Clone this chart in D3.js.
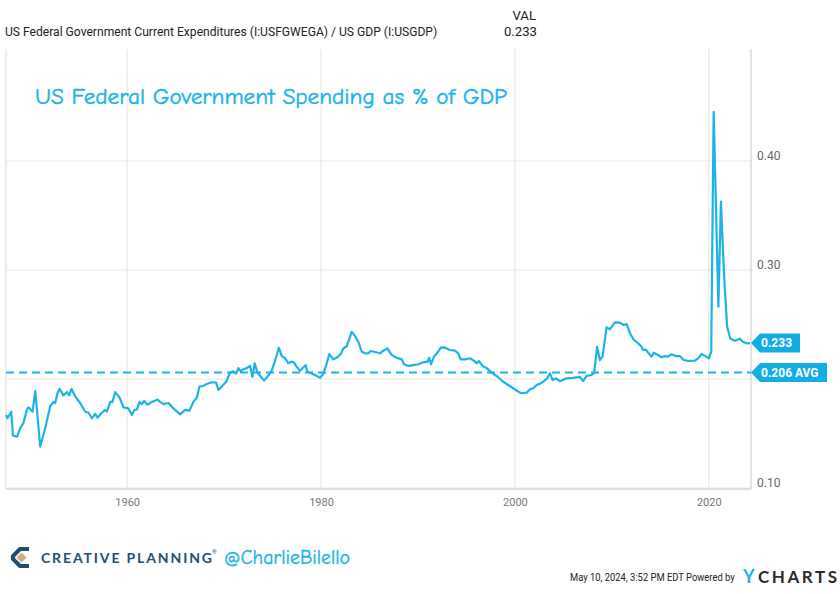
<!DOCTYPE html>
<html><head><meta charset="utf-8">
<script src="https://cdn.jsdelivr.net/npm/d3@7"></script>
<style>
body{margin:0;background:#fff;}
svg{display:block;font-family:Roboto,"Liberation Sans",sans-serif;}
</style></head><body>
<svg id="chart" width="840" height="594"></svg>
<script>
// ---- data ----
const years = [1947.5,1947.66,1948.04,1948.22,1948.63,1948.97,1949.31,1949.66,1949.82,1950.24,1950.52,1951.03,1951.55,1952.06,1952.4,1952.58,1952.81,1953.02,1953.43,1953.78,1954.02,1954.26,1954.64,1955.15,1955.67,1956.01,1956.36,1956.7,1956.94,1957.39,1957.73,1957.91,1958.25,1958.48,1958.76,1959.21,1959.62,1960.13,1960.48,1960.75,1961.0,1961.27,1961.52,1961.75,1962.09,1962.55,1963.12,1963.4,1963.74,1964.26,1964.77,1965.46,1965.98,1966.42,1966.84,1967.19,1967.45,1967.8,1968.22,1968.73,1969.18,1969.41,1969.76,1970.21,1970.62,1970.96,1971.24,1971.47,1971.72,1971.99,1972.34,1972.68,1972.92,1973.16,1973.43,1973.71,1974.12,1974.46,1974.92,1975.19,1975.43,1975.64,1975.95,1976.29,1976.63,1976.91,1977.22,1977.49,1977.84,1978.18,1978.42,1978.59,1979.04,1979.56,1979.9,1980.24,1980.59,1980.86,1981.27,1981.68,1982.03,1982.3,1982.65,1982.99,1983.16,1983.51,1983.85,1984.2,1984.54,1984.88,1985.12,1985.57,1986.08,1986.42,1986.84,1987.29,1987.8,1988.32,1988.56,1989.0,1989.52,1990.03,1990.55,1991.0,1991.16,1991.34,1991.65,1991.99,1992.37,1992.78,1993.3,1993.81,1994.15,1994.4,1994.85,1995.36,1995.77,1996.05,1996.29,1996.67,1997.08,1997.6,1997.94,1998.28,1998.79,1999.31,1999.82,2000.34,2000.69,2001.21,2001.55,2001.89,2002.24,2002.65,2002.99,2003.33,2003.61,2003.89,2004.23,2004.64,2005.33,2006.01,2006.7,2007.04,2007.39,2007.91,2008.18,2008.48,2008.76,2009.04,2009.45,2009.79,2010.03,2010.31,2010.82,2011.24,2011.52,2011.86,2012.27,2012.71,2013.06,2013.23,2013.51,2013.85,2014.09,2014.33,2014.77,2015.12,2015.46,2015.8,2016.15,2016.6,2017.01,2017.42,2017.87,2018.56,2018.9,2019.25,2019.66,2020.0,2020.25,2020.5,2020.99,2021.25,2021.58,2021.89,2022.23,2022.68,2023.2,2023.54,2023.88,2024.25];
const values = [0.167,0.164,0.170,0.148,0.147,0.155,0.160,0.172,0.174,0.170,0.189,0.138,0.155,0.175,0.179,0.178,0.187,0.191,0.185,0.188,0.185,0.191,0.184,0.178,0.170,0.169,0.164,0.168,0.1645,0.169,0.1716,0.170,0.179,0.179,0.188,0.183,0.174,0.173,0.167,0.1716,0.172,0.179,0.177,0.180,0.1764,0.179,0.181,0.179,0.177,0.178,0.173,0.1676,0.1716,0.171,0.179,0.183,0.193,0.1936,0.1954,0.197,0.1966,0.190,0.193,0.1975,0.206,0.207,0.205,0.210,0.207,0.209,0.210,0.212,0.202,0.2144,0.206,0.203,0.1985,0.202,0.208,0.215,0.222,0.2287,0.221,0.219,0.2144,0.216,0.215,0.211,0.2076,0.2107,0.2128,0.2067,0.205,0.2028,0.201,0.205,0.2144,0.223,0.218,0.220,0.223,0.228,0.230,0.2388,0.2434,0.2394,0.234,0.225,0.2236,0.2236,0.2257,0.2248,0.2236,0.226,0.228,0.222,0.2195,0.218,0.2135,0.212,0.2128,0.2135,0.2153,0.216,0.2195,0.2135,0.2205,0.224,0.229,0.2287,0.2266,0.226,0.2236,0.218,0.218,0.219,0.2168,0.2144,0.2165,0.212,0.210,0.2058,0.2037,0.2016,0.1975,0.1945,0.1915,0.1884,0.1869,0.1875,0.1905,0.1915,0.1945,0.196,0.198,0.2006,0.2052,0.199,0.2006,0.198,0.2006,0.201,0.202,0.198,0.2028,0.2037,0.2058,0.2296,0.2174,0.2205,0.2474,0.2456,0.2486,0.252,0.2517,0.2495,0.2505,0.242,0.2358,0.2328,0.2296,0.2266,0.227,0.223,0.2205,0.224,0.222,0.220,0.221,0.2205,0.2227,0.221,0.221,0.2174,0.2165,0.2168,0.219,0.223,0.221,0.219,0.225,0.445,0.2664,0.3627,0.294,0.248,0.237,0.235,0.237,0.234,0.2327,0.233];
const xTicks = [1960, 1980, 2000, 2020];
const yGridTicks = [0.10, 0.20, 0.30, 0.40];
const yLabelTicks = [0.10, 0.30, 0.40];
const lastValue = 0.233;
const avgValue = 0.206;
const seriesName = "US Federal Government Current Expenditures (I:USFGWEGA) / US GDP (I:USGDP)";
const chartTitle = "US Federal Government Spending as % of GDP";

// ---- drawing ----
const svg = d3.select("#chart");
const blue = "#1cb3e8";
const x = d3.scaleLinear().domain([1947.5, 2024.25]).range([6, 750]);
const y = d3.scaleLinear().domain([0.10, 0.50]).range([488, 52]);
const plotTop = 49, plotBottom = 489, plotLeft = 6, plotRight = 751;

// squeeze a text horizontally (real transform) so its drawn width equals w
function fitText(sel, x0, y0, w) {
  const nat = sel.node().getComputedTextLength();
  sel.attr("x", 0).attr("y", 0)
     .attr("transform", `translate(${x0},${y0}) scale(${Math.min(1, w / nat)},1)`);
  return sel;
}

// header
fitText(svg.append("text").attr("font-size", 13.2).attr("fill", "#222").text(seriesName), 5, 36, 432);
svg.append("text").attr("x", 536).attr("y", 20).attr("font-size", 13.2).attr("fill", "#222")
  .attr("text-anchor", "end").text("VAL");
svg.append("text").attr("x", 537).attr("y", 36).attr("font-size", 13.2).attr("fill", "#222")
  .attr("text-anchor", "end").text(d3.format(".3f")(lastValue));

// grid
const g = svg.append("g");
g.selectAll("line.vg").data(xTicks).join("line")
  .attr("x1", d => x(d)).attr("x2", d => x(d)).attr("y1", plotTop).attr("y2", plotBottom)
  .attr("stroke", "#e4e4e4").attr("stroke-width", 1);
g.selectAll("line.hg").data(yGridTicks).join("line")
  .attr("x1", plotLeft).attr("x2", plotRight).attr("y1", d => y(d)).attr("y2", d => y(d))
  .attr("stroke", "#e8e8e8").attr("stroke-width", 1);
// frame
g.append("line").attr("x1", plotLeft).attr("x2", plotLeft).attr("y1", plotTop).attr("y2", plotBottom).attr("stroke", "#dcdcdc");
g.append("line").attr("x1", plotRight).attr("x2", plotRight).attr("y1", plotTop).attr("y2", plotBottom).attr("stroke", "#c8c8c8");
g.append("line").attr("x1", plotLeft).attr("x2", plotRight).attr("y1", plotBottom).attr("y2", plotBottom).attr("stroke", "#d6d6d6").attr("stroke-width", 1.5);

// axes
const xAxis = svg.append("g").attr("transform", `translate(0,${plotBottom})`)
  .call(d3.axisBottom(x).tickValues(xTicks).tickFormat(d3.format("d")).tickSize(0).tickPadding(9));
xAxis.select(".domain").remove();
xAxis.selectAll("text").attr("font-size", 11).attr("fill", "#777").attr("font-family", "Roboto");

const yAxis = svg.append("g").attr("transform", `translate(${plotRight},0)`)
  .call(d3.axisRight(y).tickValues(yLabelTicks).tickFormat(d3.format(".2f")).tickSize(0).tickPadding(6));
yAxis.select(".domain").remove();
yAxis.selectAll("text").attr("font-size", 12).attr("fill", "#666").attr("y", -5).attr("font-family", "Roboto");

// title inside plot
svg.append("text").attr("x", 35).attr("y", 104).attr("font-size", 23).attr("fill", blue)
  .attr("font-family", "'Comic Sans MS','Comic Neue',Lato,sans-serif")
  .attr("stroke", blue).attr("stroke-width", 0.5)
  .attr("textLength", 472).attr("lengthAdjust", "spacingAndGlyphs").text(chartTitle);

// average line
svg.append("line").attr("x1", plotLeft).attr("x2", plotRight).attr("y1", y(avgValue)).attr("y2", y(avgValue))
  .attr("stroke", blue).attr("stroke-width", 2).attr("stroke-dasharray", "8,5");

// series line
const data = years.map((yr, i) => [yr, values[i]]);
svg.append("path").datum(data)
  .attr("d", d3.line().x(d => x(d[0])).y(d => y(d[1])))
  .attr("fill", "none").attr("stroke", blue).attr("stroke-width", 2.2).attr("stroke-linejoin", "round");

// value tags
function tag(v, label, w) {
  const yc = y(v);
  const tg = svg.append("g");
  tg.append("path").attr("d", `M${plotRight},${yc} L${plotRight + 9},${yc - 9.5} L${plotRight + w},${yc - 9.5} L${plotRight + w},${yc + 9.5} L${plotRight + 9},${yc + 9.5} Z`)
    .attr("fill", "#14ade3");
  tg.append("text").attr("x", plotRight + 10).attr("y", yc + 4.3).attr("font-size", 12).attr("font-weight", "bold")
    .attr("fill", "#fff").attr("font-family", "Roboto").text(label);
}
tag(lastValue, d3.format(".3f")(lastValue), 49);
tag(avgValue, d3.format(".3f")(avgValue) + " AVG", 76);

// footer: Creative Planning logo
const logo = svg.append("g");
logo.append("path").attr("d", "M29,549 L20,549 L13,556 L13,559 L20,566 L29,566")
  .attr("fill", "none").attr("stroke", "#1f4f6c").attr("stroke-width", 4.2).attr("stroke-linejoin", "miter");
logo.append("path").attr("d", "M21.5,552.5 L26.5,557.5 L21.5,562.5 L16.5,557.5 Z").attr("fill", "#c9ae80");
svg.append("text").attr("x", 41).attr("y", 562.5).attr("font-size", 14).attr("font-weight", "bold")
  .attr("fill", "#23506e").attr("font-family", "Lato,'Open Sans',sans-serif")
  .attr("textLength", 171).attr("lengthAdjust", "spacing").text("CREATIVE PLANNING");
svg.append("text").attr("x", 212).attr("y", 554).attr("font-size", 6).attr("fill", "#23506e").text("®");
svg.append("text").attr("x", 224).attr("y", 564).attr("font-size", 20).attr("fill", blue)
  .attr("font-family", "'Comic Sans MS','Comic Neue',Lato,sans-serif")
  .attr("stroke", blue).attr("stroke-width", 0.4)
  .attr("textLength", 126).attr("lengthAdjust", "spacingAndGlyphs").text("@CharlieBilello");

// footer: timestamp + YCharts
fitText(svg.append("text").attr("font-size", 11).attr("fill", "#222")
  .text("May 10, 2024, 3:52 PM EDT Powered by"), 570, 581, 165);
svg.append("text").attr("x", 743).attr("y", 583).attr("font-size", 18).attr("font-weight", "bold")
  .attr("fill", blue).attr("font-family", "Lato,Roboto,sans-serif").text("Y");
svg.append("text").attr("x", 758).attr("y", 583).attr("font-size", 17).attr("font-weight", "bold")
  .attr("fill", "#2b2b2b").attr("font-family", "Lato,Roboto,sans-serif")
  .attr("textLength", 79).attr("lengthAdjust", "spacing").text("CHARTS");
</script>
</body></html>
